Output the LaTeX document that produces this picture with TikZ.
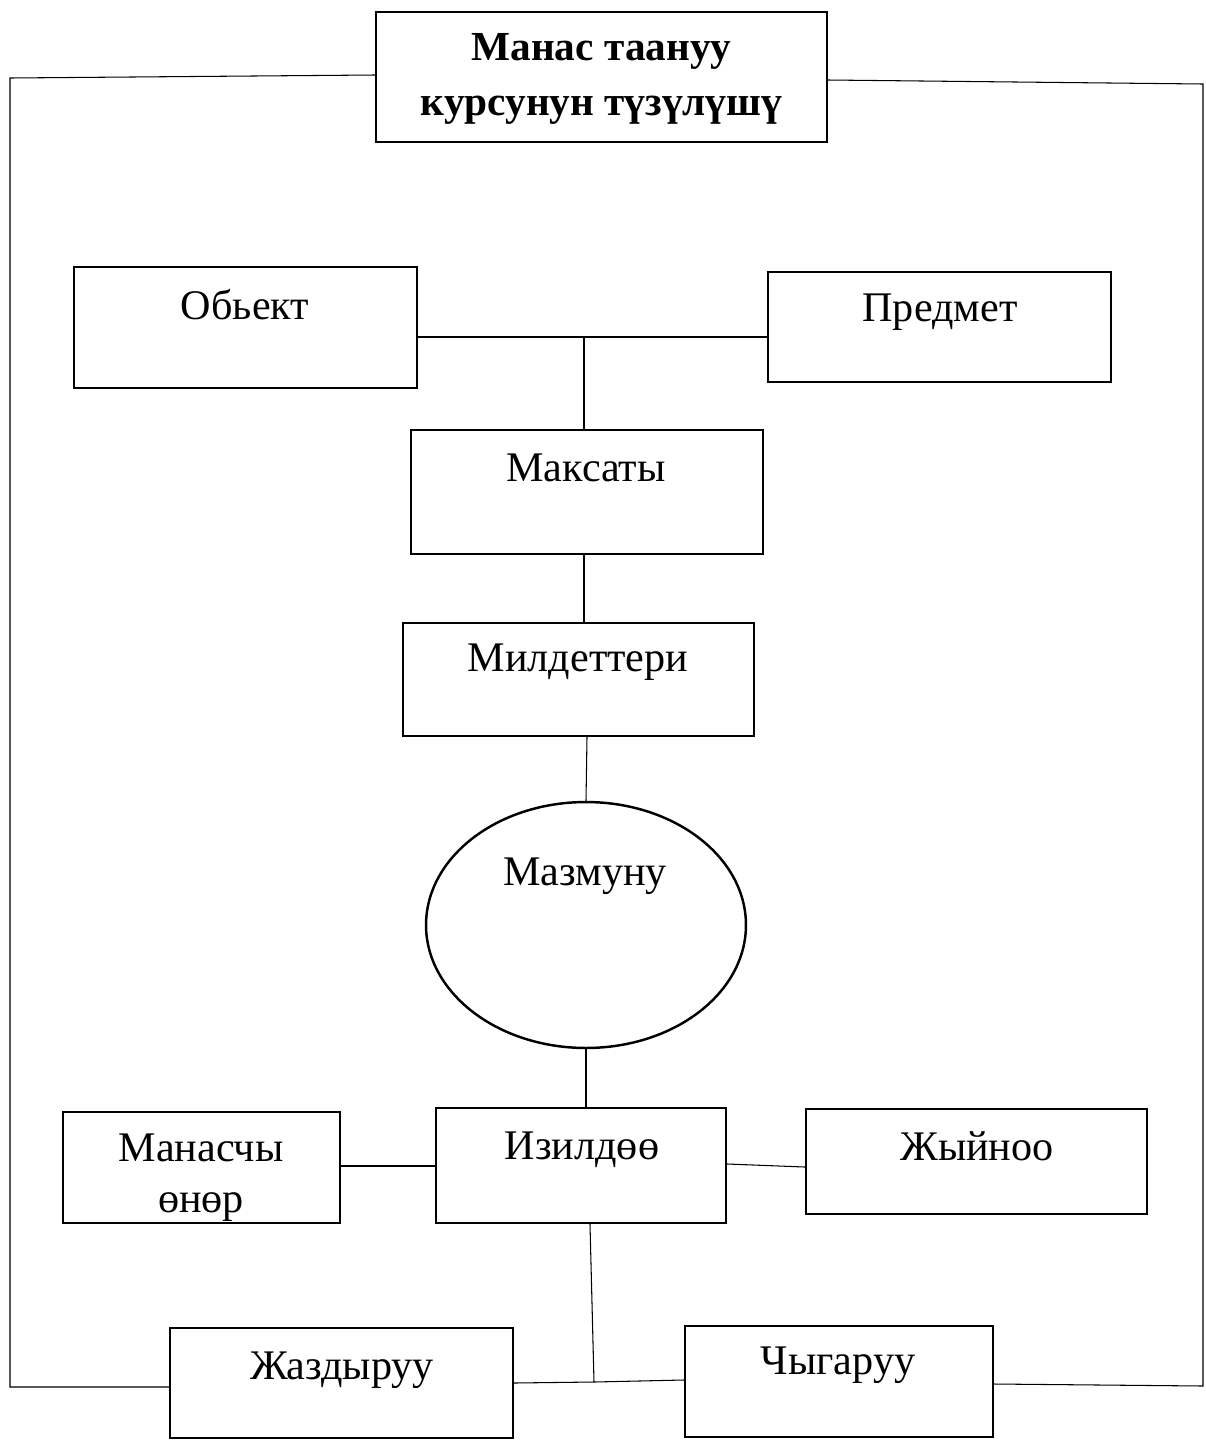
\documentclass[tikz,border=0pt]{standalone}
\usepackage{fontspec}
\setmainfont{Liberation Serif}
\usetikzlibrary{shapes.geometric}

\def\bwidth{1.4}
\def\cwidth{0.6}

\begin{document}
\begin{tikzpicture}[x=0.02cm,y=-0.02cm,
  mybox/.style={rectangle,draw,line width=\bwidth pt,inner sep=0pt},
  myoval/.style={ellipse,draw,line width=\bwidth pt,inner sep=0pt},
  mytext/.style={font=\fontsize{24}{29}\selectfont,inner sep=0pt,align=center},
  link/.style={line width=\cwidth pt}]
\useasboundingbox (0,0) rectangle (1206,1441);
% title
\node[mybox,minimum width=9.02cm,minimum height=2.6cm] (title) at (601.5,77) {};
\node[mytext,font=\bfseries\fontsize{23.5}{31.5}\selectfont] (ttitle) at (601.5,79) {Манас таануу\\курсунун түзүлүшү};
% upper row
\node[mybox,minimum width=6.86cm,minimum height=2.42cm] (obj) at (245.5,327.5) {};
\node[mytext] (tobj) at (245,305) {Обьект};
\node[mybox,minimum width=6.86cm,minimum height=2.2cm] (pred) at (939.5,327) {};
\node[mytext] (tpred) at (940,312) {Предмет};
\coordinate (jtop) at (584,337);
\draw[link] (obj.east |- jtop) -- (pred.west |- jtop);
% middle column
\node[mybox,minimum width=7.04cm,minimum height=2.48cm] (maks) at (587,492) {};
\node[mytext] (tmaks) at (586,468) {Максаты};
\draw[link] (jtop) -- (maks.north -| jtop);
\node[mybox,minimum width=7.02cm,minimum height=2.26cm] (mild) at (578.5,679.5) {};
\node[mytext] (tmild) at (578,662) {Милдеттери};
\draw[link] (maks.south -| jtop) -- (mild.north -| jtop);
\node[myoval,minimum width=6.4cm,minimum height=4.92cm] (mazm) at (586,925) {};
\node[mytext] (tmazm) at (585,876) {Мазмуну};
\draw[link] (mild.south -| 587,0) -- (mazm.north);
% lower row
\node[mybox,minimum width=5.8cm,minimum height=2.3cm] (izil) at (581,1165.5) {};
\node[mytext] (tizil) at (582,1150) {Изилдөө};
\draw[link] (mazm.south) -- (izil.north -| mazm.south);
\node[mybox,minimum width=5.54cm,minimum height=2.22cm] (manas) at (201.5,1167.5) {};
\begin{scope}
  \clip (manas.south west) rectangle (manas.north east);
  \node[mytext,anchor=north] (tmanas) at (201,1134) {Манасчы\\өнөр};
\end{scope}
\draw[link] (manas.east |- 0,1166) -- (izil.west |- 0,1166);
\node[mybox,minimum width=6.82cm,minimum height=2.1cm] (zhyi) at (976.5,1161.5) {};
\node[mytext] (tzhyi) at (977,1146) {Жыйноо};
\draw[link] (izil.east |- 0,1164) -- (zhyi.west |- 0,1167);
% bottom row
\node[mybox,minimum width=6.86cm,minimum height=2.2cm] (zhaz) at (341.5,1383) {};
\node[mytext] (tzhaz) at (342,1370) {Жаздыруу};
\node[mybox,minimum width=6.16cm,minimum height=2.22cm] (chyg) at (839,1381.5) {};
\node[mytext] (tchyg) at (838,1365) {Чыгаруу};
\coordinate (jbot) at (594,1382);
\draw[link] (izil.south -| 590,0) -- (jbot);
\draw[link] (zhaz.east |- 0,1383) -- (jbot) -- (chyg.west |- 0,1380);
% outer frame
\coordinate (fl) at (10,78);
\coordinate (fr) at (1203,84);
\draw[link] (title.west |- 0,75) -- (fl) -- (fl |- 0,1387) -- (zhaz.west |- 0,1387);
\draw[link] (title.east |- 0,80) -- (fr) -- (fr |- 0,1386) -- (chyg.east |- 0,1384);
\end{tikzpicture}
\end{document}
